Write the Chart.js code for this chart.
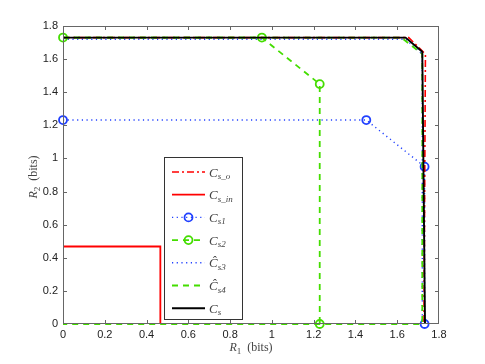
<!DOCTYPE html>
<html>
<head>
<meta charset="utf-8">
<script src="https://cdn.jsdelivr.net/npm/chart.js@4/dist/chart.umd.min.js"></script>
<style>
  body{margin:0;background:#fff;}
  canvas{display:block;}
</style>
</head>
<body>
<canvas id="myChart" width="485" height="364"></canvas>
<script>
// tick values for both axes
var r1Ticks=[0,0.2,0.4,0.6,0.8,1,1.2,1.4,1.6,1.8];
var r2Ticks=[0,0.2,0.4,0.6,0.8,1,1.2,1.4,1.6,1.8];

// region boundaries
var csoX=[0,1.655,1.735,1.728];
var csoY=[1.73,1.73,1.63,0];
var csinX=[0,0.466,0.466];
var csinY=[0.468,0.468,0];
var cs1X=[0,1.452,1.731,1.731];
var cs1Y=[1.232,1.232,0.95,0];
var cs2X=[0,0.952,1.229,1.229];
var cs2Y=[1.73,1.73,1.449,0];
var chs3X=[0,1.64,1.72,1.72];
var chs3Y=[1.72,1.72,1.63,0];
var chs4X=[0,1.62,1.72,1.72,0];
var chs4Y=[1.73,1.73,1.63,0,0];
var csX=[0,1.64,1.72,1.733];
var csY=[1.73,1.73,1.645,0];

function punti(xs,ys){
  var out=[];
  for(var i=0;i<xs.length;i++){
    out.push({x:xs[i],y:ys[i]});
  }
  return out;
}

var rosso='#ff0000';
var blu='#2040ff';
var verde='#44dd00';

var serie=[
  {sub:'s_o',hat:false,data:punti(csoX,csoY),color:rosso,dash:[7,3,2,3],width:1.6,marker:false,order:3},
  {sub:'s_in',hat:false,data:punti(csinX,csinY),color:rosso,dash:[],width:1.8,marker:false,order:4},
  {sub:'s1',hat:false,data:punti(cs1X,cs1Y),color:blu,dash:[1.2,3.5],width:1.4,marker:true,order:5},
  {sub:'s2',hat:false,data:punti(cs2X,cs2Y),color:verde,dash:[6,5],width:1.8,marker:true,order:2},
  {sub:'s3',hat:true,data:punti(chs3X,chs3Y),color:blu,dash:[1.2,3.5],width:1.4,marker:false,order:6},
  {sub:'s4',hat:true,data:punti(chs4X,chs4Y),color:verde,dash:[6,5],width:1.8,marker:false,order:1},
  {sub:'s',hat:false,data:punti(csX,csY),color:'#000000',dash:[],width:1.9,marker:false,order:0}
];

var datasets=[];
for(var i=0;i<serie.length;i++){
  var s=serie[i];
  datasets.push({
    data:s.data,
    showLine:true,
    borderColor:s.color,
    backgroundColor:'rgba(0,0,0,0)',
    borderWidth:s.width,
    borderDash:s.dash,
    pointRadius:s.marker?4:0,
    pointBorderWidth:1.8,
    pointBorderColor:s.color,
    pointBackgroundColor:'rgba(0,0,0,0)',
    tension:0,
    clip:false,
    order:s.order
  });
}

var grigio='#666666';

// box, inward ticks, axis titles and the legend
var decor={
  id:'decor',
  afterDraw:function(chart){
    var ctx=chart.ctx;
    var a=chart.chartArea;
    var xs=chart.scales.x, ys=chart.scales.y;
    ctx.save();
    ctx.strokeStyle=grigio;
    ctx.lineWidth=1;
    ctx.setLineDash([]);
    ctx.strokeRect(a.left+0.5,a.top+0.5,a.right-a.left-1,a.bottom-a.top-1);
    ctx.beginPath();
    for(var i=1;i<r1Ticks.length-1;i++){
      var px=Math.round(xs.getPixelForValue(r1Ticks[i]))+0.5;
      ctx.moveTo(px,a.bottom);ctx.lineTo(px,a.bottom-4);
      ctx.moveTo(px,a.top);ctx.lineTo(px,a.top+4);
    }
    for(var j=1;j<r2Ticks.length-1;j++){
      var py=Math.round(ys.getPixelForValue(r2Ticks[j]))+0.5;
      ctx.moveTo(a.left,py);ctx.lineTo(a.left+4,py);
      ctx.moveTo(a.right,py);ctx.lineTo(a.right-4,py);
    }
    ctx.stroke();

    // axis titles
    ctx.fillStyle='#444';
    ctx.textBaseline='alphabetic';
    function titolo(cx,cy,pedice,ruota){
      ctx.save();
      ctx.translate(cx,cy);
      if(ruota){ctx.rotate(-Math.PI/2);}
      ctx.font='italic 12px "Liberation Serif"';
      var w1=ctx.measureText('R').width;
      ctx.font='9px "Liberation Serif"';
      var w2=ctx.measureText(pedice).width;
      ctx.font='12px "Liberation Serif"';
      var w3=ctx.measureText('  (bits)').width;
      var x0=-(w1+w2+w3)/2;
      ctx.font='italic 12px "Liberation Serif"';
      ctx.fillText('R',x0,4);
      ctx.font='9px "Liberation Serif"';
      ctx.fillText(pedice,x0+w1,7);
      ctx.font='12px "Liberation Serif"';
      ctx.fillText('  (bits)',x0+w1+w2,4);
      ctx.restore();
    }
    titolo((a.left+a.right)/2,347,'1',false);
    titolo(33,177,'2',true);

    // legend
    var lx=164.5, ly=157.5, lw=78, lh=162;
    ctx.fillStyle='#fff';
    ctx.fillRect(lx,ly,lw,lh);
    ctx.strokeStyle='#333';
    ctx.lineWidth=1;
    ctx.strokeRect(lx,ly,lw,lh);
    for(var k=0;k<serie.length;k++){
      var s=serie[k];
      var yy=172+k*22.7;
      ctx.strokeStyle=s.color;
      ctx.lineWidth=s.width;
      ctx.setLineDash(s.dash);
      ctx.beginPath();
      ctx.moveTo(172,yy);ctx.lineTo(205,yy);
      ctx.stroke();
      ctx.setLineDash([]);
      if(s.marker){
        ctx.lineWidth=1.8;
        ctx.beginPath();
        ctx.arc(188.5,yy,4,0,Math.PI*2);
        ctx.stroke();
      }
      ctx.fillStyle='#444';
      ctx.font='italic 13px "Liberation Serif"';
      var c=s.hat?'\u0108':'C';
      ctx.fillText(c,209,yy+4.5);
      var wc=ctx.measureText(c).width;
      ctx.font='italic 9px "Liberation Serif"';
      ctx.fillText(s.sub,209+wc,yy+7);
    }
    ctx.restore();
  }
};

function etichetta(v){
  return String(Number(v.toFixed(1)));
}

var ctx=document.getElementById('myChart').getContext('2d');
var chart=new Chart(ctx,{
  type:'scatter',
  data:{datasets:datasets},
  options:{
    responsive:false,
    animation:false,
    layout:{padding:{top:26,right:46,left:0,bottom:0}},
    plugins:{legend:{display:false},tooltip:{enabled:false}},
    scales:{
      x:{
        type:'linear',min:0,max:1.8,
        afterBuildTicks:function(scale){scale.ticks=r1Ticks.map(function(v){return {value:v};});},
        afterFit:function(scale){scale.height=40;},
        grid:{display:false,drawTicks:false},
        border:{display:false},
        ticks:{padding:4,color:'#222',font:{family:'Liberation Sans',size:11},callback:etichetta,maxRotation:0}
      },
      y:{
        type:'linear',min:0,max:1.8,
        afterBuildTicks:function(scale){scale.ticks=r2Ticks.map(function(v){return {value:v};});},
        afterFit:function(scale){scale.width=63;},
        grid:{display:false,drawTicks:false},
        border:{display:false},
        ticks:{padding:5,color:'#222',font:{family:'Liberation Sans',size:11},callback:etichetta}
      }
    }
  },
  plugins:[decor]
});
</script>
</body>
</html>
